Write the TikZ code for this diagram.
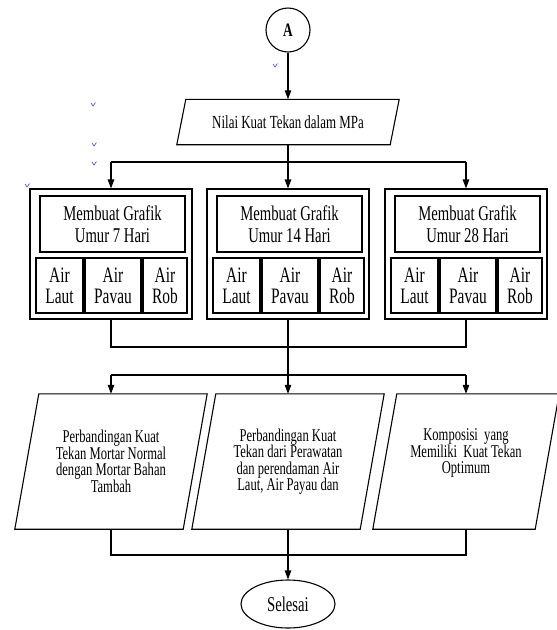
\documentclass[tikz,border=0pt]{standalone}
\usepackage{fontspec}
\setmainfont{Liberation Serif}[FakeStretch=0.7]
\usetikzlibrary{positioning,shapes.geometric,arrows.meta}
\tikzset{
	>={Triangle[length=9pt,width=6.5pt]},
	garis/.style={draw, line width=1.1pt},
	panah/.style={garis, ->},
	konektor/.style={
		circle,
		draw, line width=1.1pt,
		minimum size=44pt,
		inner sep=0pt,
		font=\fontsize{19}{19}\selectfont\bfseries},
	data/.style={
		rectangle,
		inner sep=0pt,
		align=center},
	hasil/.style={
		data,
		minimum height=135pt,
		font=\fontsize{18}{16.5}\selectfont},
	kotak/.style={rectangle, draw, line width=1.1pt, inner sep=0pt},
	judul/.style={kotak, align=center, font=\fontsize{21}{22}\selectfont},
	air/.style={kotak, align=center, font=\fontsize{22}{21}\selectfont},
	akhir/.style={
		ellipse,
		draw, line width=1.1pt,
		minimum width=94pt,
		minimum height=48pt,
		inner sep=0pt,
		font=\fontsize{21}{21}\selectfont},
	tanda/.style={draw=blue!75!white, line width=0.6pt},
}

\begin{document}
\begin{tikzpicture}[x=1pt, y=-1pt]
\useasboundingbox (0,0) rectangle (557,630);

\node[konektor] (A) at (288,30) {A};
\node[data, minimum width=213pt, minimum height=45pt,
	font=\fontsize{18.5}{18.5}\selectfont] (nilai) at (288,122) {Nilai Kuat Tekan dalam MPa};

% kotak grafik umur 7, 14, 28 hari
\foreach \i/\x/\hari in {1/111/7, 2/288/14, 3/466/28} {
	\node[kotak, minimum width=162pt, minimum height=130pt] (grafik\i) at (\x,254) {};
	\node[judul, minimum width=145pt, minimum height=56pt] (judul\i) at (\x+1.5,224) {Membuat Grafik\\Umur \hari{} Hari};
	\node[air, minimum width=47pt, minimum height=55pt] (laut\i) at (\x-51.5,285.5) {Air\\Laut};
	\node[air, minimum width=56pt, minimum height=55pt] (payau\i) at (\x+2,285.5) {Air\\Pavau};
	\node[air, minimum width=44pt, minimum height=55pt] (rob\i) at (\x+54,285.5) {Air\\Rob};
}

% hasil perbandingan
\node[hasil, minimum width=168pt] (hasil1) at (111,461.5)
	{Perbandingan Kuat\\Tekan Mortar Normal\\dengan Mortar Bahan\\Tambah};
\node[hasil, minimum width=168pt] (hasil2) at (288,461.5)
	{Perbandingan Kuat\\Tekan dari Perawatan\\dan perendaman Air\\Laut, Air Payau dan};
\node[hasil, minimum width=162pt, text depth=20pt] (hasil3) at (466,461.5)
	{Komposisi\ \ yang\\Memiliki\ \ Kuat Tekan\\Optimum};

\node[akhir] (selesai) at (288,604) {Selesai};

% bentuk jajar genjang (data)
\foreach \n/\s in {nilai/4.5, hasil1/12, hasil2/12, hasil3/12}
	\draw[garis, line join=miter] ([xshift=\s pt]\n.north west) -- ([xshift=\s pt]\n.north east)
		-- ([xshift=-\s pt]\n.south east) -- ([xshift=-\s pt]\n.south west) -- cycle;

% garis penghubung
\coordinate (cab1) at (288,162);
\coordinate (gab1) at (288,347);
\coordinate (cab2) at (288,375);
\coordinate (gab2) at (288,555);

\draw[panah] (A.south) -- (nilai.north);
\draw[garis] (nilai.south) -- (cab1);
\draw[garis] (grafik1.north |- cab1) -- (grafik3.north |- cab1);
\foreach \i in {1,2,3}
	\draw[panah] (grafik\i.north |- cab1) -- (grafik\i.north);

\draw[garis] (grafik1.south) -- (grafik1.south |- gab1) -- (grafik3.south |- gab1) -- (grafik3.south);
\draw[garis] (grafik2.south) -- (gab1) -- (cab2);
\draw[garis] (hasil1.north |- cab2) -- (hasil3.north |- cab2);
\foreach \i in {1,2,3}
	\draw[panah] (hasil\i.north |- cab2) -- (hasil\i.north);

\draw[garis] (hasil1.south) -- (hasil1.south |- gab2) -- (hasil3.south |- gab2) -- (hasil3.south);
\draw[panah] (hasil2.south) -- (selesai.north);

% tanda kecil biru
\foreach \p/\q in {275/66, 93/105, 94/145, 94/164, 27/186}
	\draw[tanda] (\p-2,\q-2) -- (\p,\q+1) -- (\p+2.5,\q-2.5);
\end{tikzpicture}
\end{document}
